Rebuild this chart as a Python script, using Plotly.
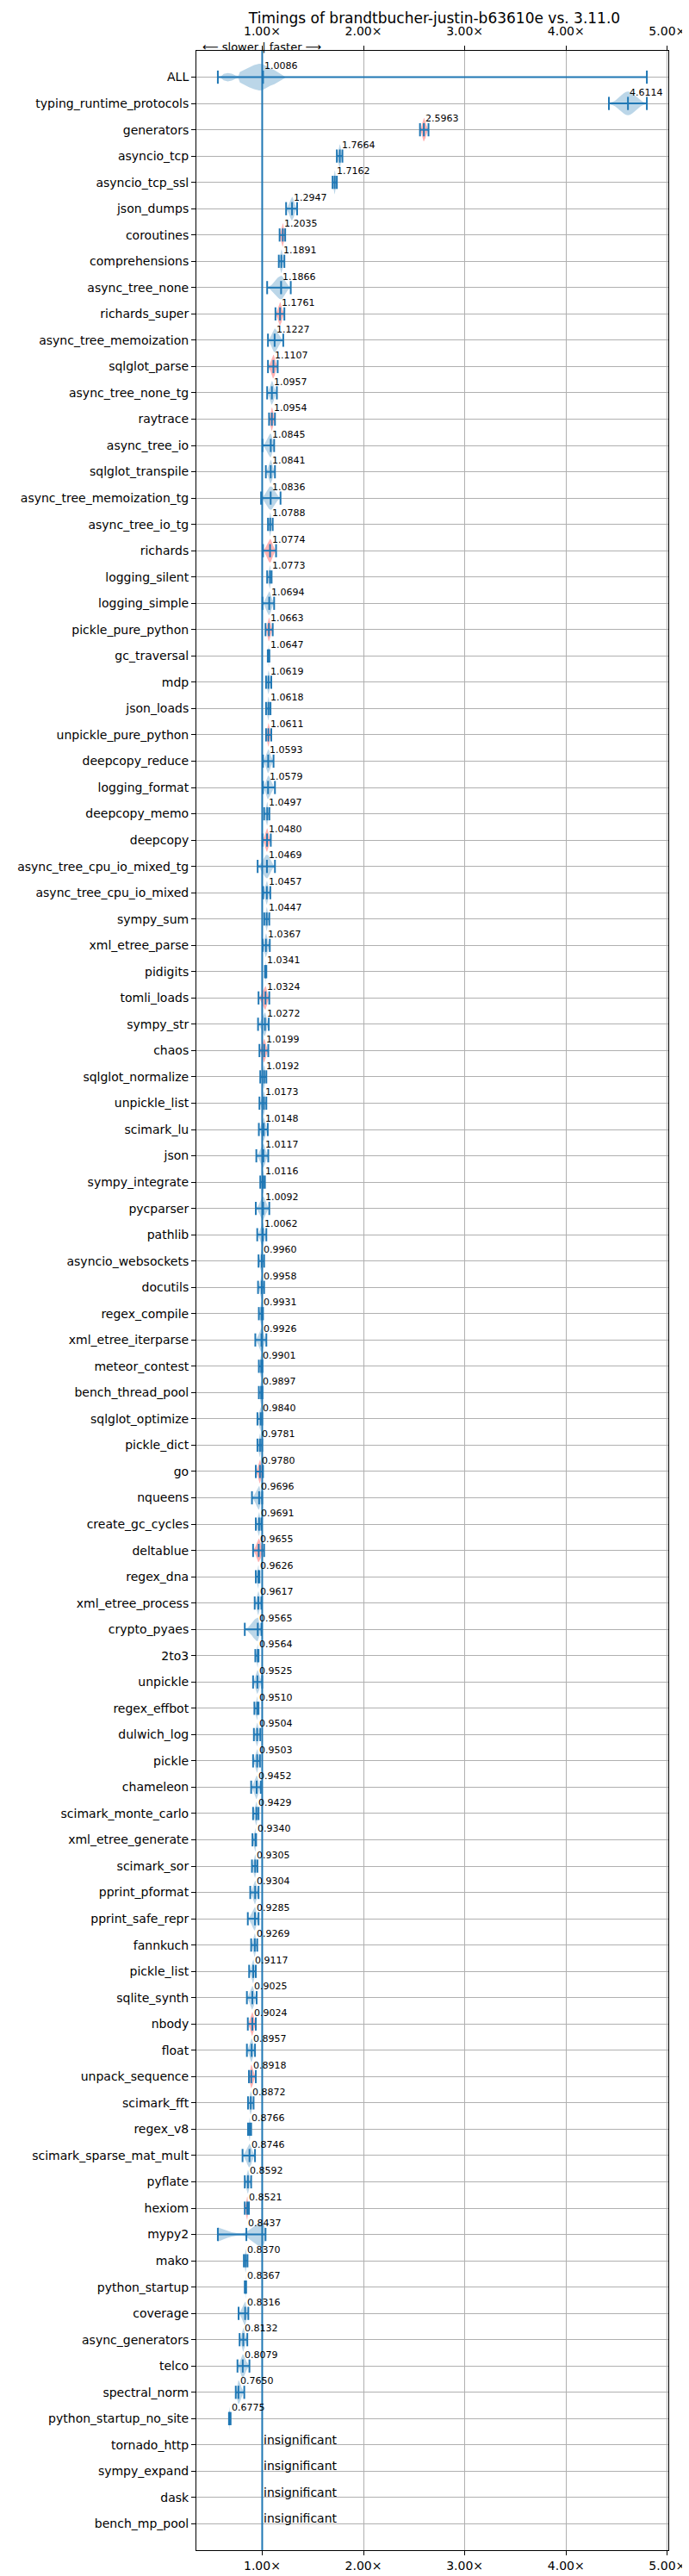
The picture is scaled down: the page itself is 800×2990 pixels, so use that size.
import numpy as np
import plotly.graph_objects as go

# benchmarks, ordered as in the chart (top to bottom)
names = [
    "ALL", "typing_runtime_protocols", "generators", "asyncio_tcp", "asyncio_tcp_ssl",
    "json_dumps", "coroutines", "comprehensions", "async_tree_none", "richards_super",
    "async_tree_memoization", "sqlglot_parse", "async_tree_none_tg", "raytrace", "async_tree_io",
    "sqlglot_transpile", "async_tree_memoization_tg", "async_tree_io_tg", "richards", "logging_silent",
    "logging_simple", "pickle_pure_python", "gc_traversal", "mdp", "json_loads",
    "unpickle_pure_python", "deepcopy_reduce", "logging_format", "deepcopy_memo", "deepcopy",
    "async_tree_cpu_io_mixed_tg", "async_tree_cpu_io_mixed", "sympy_sum", "xml_etree_parse", "pidigits",
    "tomli_loads", "sympy_str", "chaos", "sqlglot_normalize", "unpickle_list",
    "scimark_lu", "json", "sympy_integrate", "pycparser", "pathlib",
    "asyncio_websockets", "docutils", "regex_compile", "xml_etree_iterparse", "meteor_contest",
    "bench_thread_pool", "sqlglot_optimize", "pickle_dict", "go", "nqueens",
    "create_gc_cycles", "deltablue", "regex_dna", "xml_etree_process", "crypto_pyaes",
    "2to3", "unpickle", "regex_effbot", "dulwich_log", "pickle",
    "chameleon", "scimark_monte_carlo", "xml_etree_generate", "scimark_sor", "pprint_pformat",
    "pprint_safe_repr", "fannkuch", "pickle_list", "sqlite_synth", "nbody",
    "float", "unpack_sequence", "scimark_fft", "regex_v8", "scimark_sparse_mat_mult",
    "pyflate", "hexiom", "mypy2", "mako", "python_startup",
    "coverage", "async_generators", "telco", "spectral_norm", "python_startup_no_site",
]
insignificant = ["tornado_http", "sympy_expand", "dask", "bench_mp_pool"]

medians = [
    1.0086, 4.6114, 2.5963, 1.7664, 1.7162, 1.2947, 1.2035, 1.1891, 1.1866, 1.1761,
    1.1227, 1.1107, 1.0957, 1.0954, 1.0845, 1.0841, 1.0836, 1.0788, 1.0774, 1.0773,
    1.0694, 1.0663, 1.0647, 1.0619, 1.0618, 1.0611, 1.0593, 1.0579, 1.0497, 1.0480,
    1.0469, 1.0457, 1.0447, 1.0367, 1.0341, 1.0324, 1.0272, 1.0199, 1.0192, 1.0173,
    1.0148, 1.0117, 1.0116, 1.0092, 1.0062, 0.9960, 0.9958, 0.9931, 0.9926, 0.9901,
    0.9897, 0.9840, 0.9781, 0.9780, 0.9696, 0.9691, 0.9655, 0.9626, 0.9617, 0.9565,
    0.9564, 0.9525, 0.9510, 0.9504, 0.9503, 0.9452, 0.9429, 0.9340, 0.9305, 0.9304,
    0.9285, 0.9269, 0.9117, 0.9025, 0.9024, 0.8957, 0.8918, 0.8872, 0.8766, 0.8746,
    0.8592, 0.8521, 0.8437, 0.8370, 0.8367, 0.8316, 0.8132, 0.8079, 0.7650, 0.6775,
]
lows = [
    0.562, 4.423, 2.558, 1.737, 1.695, 1.236, 1.172, 1.164, 1.049, 1.131,
    1.057, 1.057, 1.049, 1.068, 1.003, 1.036, 0.989, 1.057, 1.008, 1.049,
    1.003, 1.033, 1.055, 1.038, 1.038, 1.038, 1.008, 1.008, 1.019, 1.003,
    0.955, 1.010, 1.020, 1.005, 1.027, 0.964, 0.959, 0.973, 0.981, 0.973,
    0.967, 0.942, 0.981, 0.937, 0.951, 0.964, 0.959, 0.967, 0.932, 0.967,
    0.967, 0.953, 0.953, 0.937, 0.899, 0.937, 0.910, 0.937, 0.926, 0.828,
    0.932, 0.910, 0.923, 0.918, 0.910, 0.891, 0.910, 0.904, 0.899, 0.882,
    0.858, 0.891, 0.871, 0.849, 0.858, 0.849, 0.869, 0.860, 0.860, 0.806,
    0.828, 0.828, 0.562, 0.819, 0.828, 0.767, 0.777, 0.756, 0.739, 0.672,
]
highs = [
    4.798, 4.798, 2.642, 1.792, 1.737, 1.345, 1.227, 1.219, 1.282, 1.219,
    1.208, 1.153, 1.145, 1.126, 1.118, 1.126, 1.181, 1.104, 1.137, 1.093,
    1.118, 1.104, 1.071, 1.090, 1.082, 1.090, 1.112, 1.126, 1.071, 1.085,
    1.126, 1.080, 1.070, 1.075, 1.041, 1.070, 1.065, 1.060, 1.041, 1.041,
    1.055, 1.060, 1.027, 1.070, 1.041, 1.019, 1.019, 1.008, 1.041, 1.003,
    1.003, 1.000, 1.000, 1.008, 1.000, 0.992, 1.019, 0.973, 0.992, 0.992,
    0.964, 1.000, 0.964, 0.981, 0.978, 0.986, 0.964, 0.940, 0.953, 0.964,
    0.964, 0.951, 0.937, 0.945, 0.937, 0.929, 0.937, 0.915, 0.891, 0.929,
    0.891, 0.869, 1.033, 0.855, 0.841, 0.863, 0.853, 0.874, 0.823, 0.688,
]
red_rows = [
    "generators", "coroutines", "richards_super", "sqlglot_parse", "raytrace",
    "richards", "pickle_pure_python", "unpickle_pure_python", "deepcopy", "tomli_loads",
    "chaos", "go", "deltablue", "nbody", "unpack_sequence", "hexiom",
]

# hand-read outlines (half height in rows) for the two multi-lobed violins
all_prof_x = [0.59, 0.62, 0.66, 0.70, 0.74, 0.765, 0.78, 0.82, 0.87, 0.92, 0.97, 1.00, 1.04, 1.08, 1.12, 1.16, 1.20, 1.235]
all_prof_h = [0.02, 0.12, 0.16, 0.13, 0.06, 0.05, 0.20, 0.28, 0.38, 0.46, 0.51, 0.50, 0.42, 0.33, 0.27, 0.18, 0.09, 0.01]
mypy2_prof_x = [0.562, 0.60, 0.65, 0.70, 0.75, 0.80, 0.84, 0.88, 0.92, 0.96, 1.00, 1.02, 1.04]
mypy2_prof_h = [0.27, 0.22, 0.14, 0.08, 0.05, 0.04, 0.08, 0.20, 0.32, 0.42, 0.48, 0.35, 0.02]

BLUE = "#1f77b4"
FONT = "DejaVu Sans"
all_names = names + insignificant
n_rows = len(all_names)


def body_outline(lo, med, hi, h=0.45):
    left = np.linspace(lo, med, 10)
    right = np.linspace(med, hi, 10)[1:]
    sl = max((med - lo) / 2.5, 1e-4)
    sr = max((hi - med) / 2.5, 1e-4)
    hl = h * np.exp(-0.5 * ((left - med) / sl) ** 2)
    hr = h * np.exp(-0.5 * ((right - med) / sr) ** 2)
    xs = np.concatenate([left, right])
    hs = np.concatenate([hl, hr])
    return xs, hs


profiles = {"ALL": (all_prof_x, all_prof_h), "mypy2": (mypy2_prof_x, mypy2_prof_h)}

bodies = {"blue": ([], []), "red": ([], [])}
lx, ly = [], []
for i, name in enumerate(names):
    y = i + 1
    med, lo, hi = medians[i], lows[i], highs[i]
    if name in profiles:
        xs, hs = np.array(profiles[name][0]), np.array(profiles[name][1])
    else:
        xs, hs = body_outline(lo, med, hi)
    key = "red" if name in red_rows else "blue"
    bx, by = bodies[key]
    bx.extend(list(xs) + list(xs[::-1]) + [None])
    by.extend(list(y - hs) + list((y + hs)[::-1]) + [None])
    # min / max / median caps and the connecting bar
    for xv in (lo, hi, med):
        lx.extend([xv, xv, None])
        ly.extend([y - 0.25, y + 0.25, None])
    lx.extend([lo, hi, None])
    ly.extend([y, y, None])

fig = go.Figure()
fig.add_trace(go.Scatter(x=bodies["blue"][0], y=bodies["blue"][1], fill="toself",
                         fillcolor="rgba(31,119,180,0.3)", line=dict(width=0),
                         mode="lines", hoverinfo="skip", showlegend=False))
fig.add_trace(go.Scatter(x=bodies["red"][0], y=bodies["red"][1], fill="toself",
                         fillcolor="rgba(255,0,0,0.3)", line=dict(width=0),
                         mode="lines", hoverinfo="skip", showlegend=False))
fig.add_trace(go.Scatter(x=lx, y=ly, mode="lines", line=dict(color=BLUE, width=2),
                         hoverinfo="skip", showlegend=False))
fig.add_trace(go.Scatter(x=[1, 1], y=[0, n_rows + 1], mode="lines",
                         line=dict(color=BLUE, width=2), showlegend=False))
# dummy trace so the top axis gets drawn
fig.add_trace(go.Scatter(x=[1], y=[1], xaxis="x2", mode="markers",
                         marker=dict(opacity=0), showlegend=False, hoverinfo="skip"))

for i, name in enumerate(names):
    fig.add_annotation(x=medians[i], y=i + 1 - 0.42, text="{:.4f}".format(medians[i]),
                       showarrow=False, xanchor="left", yanchor="middle",
                       font=dict(family=FONT, size=11, color="black"))
for j, name in enumerate(insignificant):
    fig.add_annotation(x=1.0, y=len(names) + j + 1, text="insignificant", showarrow=False,
                       xanchor="left", yanchor="middle", yshift=6,
                       font=dict(family=FONT, size=14, color="black"))

fig.add_annotation(x=1.0, y=1.0, yref="paper", text="\u27f5 slower | faster \u27f6",
                   showarrow=False, xanchor="center", yanchor="bottom", yshift=-4,
                   borderpad=0, font=dict(family=FONT, size=13, color="black"))

xticks = [1, 2, 3, 4, 5]
xlabels = ["{:.2f}\u00d7".format(v) for v in xticks]
xrange = [0.350, 5.010]

fig.update_layout(
    width=800, height=2990,
    margin=dict(l=213, r=20, t=51, b=28),
    plot_bgcolor="white", paper_bgcolor="white",
    font=dict(family=FONT, size=14, color="black"),
    title=dict(text="Timings of brandtbucher-justin-b63610e vs. 3.11.0",
               x=(213 + 780) / 2 / 800, xanchor="center", xref="container",
               y=1 - 13 / 2990, yanchor="middle", yref="container",
               font=dict(family=FONT, size=17, color="black")),
    xaxis=dict(range=xrange, tickvals=xticks, ticktext=xlabels, showgrid=True,
               gridcolor="#b0b0b0", gridwidth=0.8, zeroline=False, showline=True,
               linecolor="black", linewidth=1, mirror=True, ticks="outside",
               ticklen=5, tickcolor="black", tickfont=dict(size=14),
               ticklabeloverflow="allow"),
    xaxis2=dict(range=xrange, tickvals=xticks, ticktext=xlabels, overlaying="x",
                side="top", matches="x", showgrid=False, zeroline=False,
                ticks="outside", ticklen=5, tickcolor="black", tickfont=dict(size=14),
                ticklabelstandoff=6, ticklabeloverflow="allow"),
    yaxis=dict(range=[n_rows + 1, 0], tickvals=list(range(1, n_rows + 1)),
               ticktext=all_names, showgrid=True, gridcolor="#b0b0b0", gridwidth=0.8,
               zeroline=False, showline=True, linecolor="black", linewidth=1,
               mirror=True, ticks="outside", ticklen=5, tickcolor="black",
               tickfont=dict(size=14)),
)

fig.write_html("out.html")
